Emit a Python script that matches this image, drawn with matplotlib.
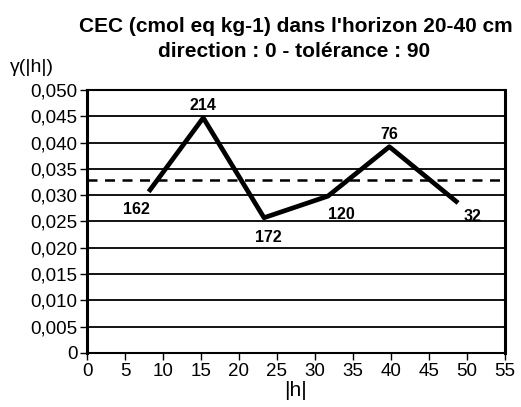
import matplotlib
matplotlib.use("Agg")
import matplotlib.pyplot as plt
from matplotlib.ticker import FuncFormatter

plt.rcParams['font.family'] = ['Liberation Sans', 'DejaVu Sans']

# variogramme expérimental
distances = [8.3, 15.3, 23.3, 31.7, 39.8, 48.6]
gamma = [0.0310, 0.0447, 0.0257, 0.0298, 0.0392, 0.0288]
paires = ['162', '214', '172', '120', '76', '32']
variance = 0.0329

# décalage des étiquettes (points)
decalages = [(-10, -14), (0, 9), (3, -14), (10, -13), (0, 9), (12, -11)]

fig = plt.figure(figsize=(5.21, 4.07), dpi=100)
ax = fig.add_axes([0.167, 0.133, 0.802, 0.646])

for y in [0.005 * i for i in range(1, 10)]:
    ax.axhline(y, color='black', lw=1.3, zorder=1)

ax.axhline(variance, color='black', lw=1.8, ls=(0, (4, 3)), zorder=2)
ax.plot(distances, gamma, color='black', lw=3.4, zorder=3)

for x, y, n, (dx, dy) in zip(distances, gamma, paires, decalages):
    ax.annotate(n, (x, y), xytext=(dx, dy), textcoords='offset points',
                ha='center', va='center', fontsize=11.5, fontweight='bold')

ax.set_xlim(0, 55)
ax.set_ylim(0, 0.05)
ax.set_xticks(range(0, 56, 5))
ax.set_yticks([0.005 * i for i in range(11)])
ax.yaxis.set_major_formatter(FuncFormatter(
    lambda v, p: '0' if v == 0 else f'{v:.3f}'.replace('.', ',')))
ax.tick_params(direction='out', length=5, width=1, labelsize=13.5, pad=2)

ax.spines['left'].set_linewidth(2.2)
ax.spines['right'].set_linewidth(2.2)
ax.spines['top'].set_linewidth(1.5)
ax.spines['bottom'].set_linewidth(1.5)

ax.set_xlabel('|h|', fontsize=15, labelpad=1)
fig.text(0.02, 0.835, 'γ(|h|)', fontsize=14, ha='left', va='center')

fig.text(0.568, 0.935, "CEC (cmol eq kg-1) dans l'horizon 20-40 cm",
         ha='center', va='center', fontsize=15, fontweight='bold')
fig.text(0.565, 0.873, 'direction : 0 - tolérance : 90',
         ha='center', va='center', fontsize=15, fontweight='bold')

fig.savefig('out.png', dpi=100)
